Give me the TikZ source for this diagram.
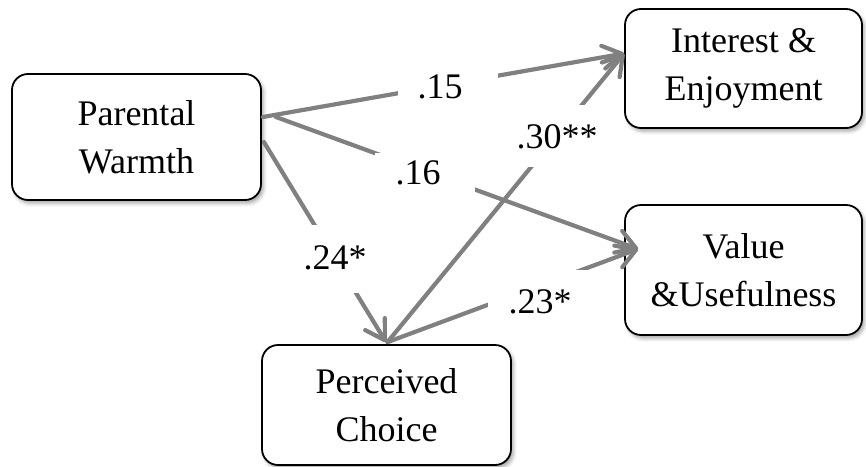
\documentclass[tikz,border=0pt]{standalone}
\usepackage{fontspec}
\setmainfont{Liberation Serif}
\usetikzlibrary{arrows.meta,calc,shadows.blur}
\definecolor{pathgray}{RGB}{128,128,128}
\begin{document}
\begin{tikzpicture}[x=0.5pt,y=-0.5pt,
  box/.style={draw=black, line width=0.9pt, fill=white, rounded corners=8pt,
    align=center, inner sep=0pt,
    font=\fontsize{18}{24}\selectfont,
    blur shadow={shadow xshift=1.2pt, shadow yshift=-1.6pt,
      shadow blur radius=1.8pt, shadow opacity=35}},
  path/.style={draw=pathgray, line width=2.1pt, line cap=round,
    -{Straight Barb[length=9.5pt,width=11.5pt,line cap=round,line join=round]}},
  patch/.style={fill=white, draw=none, inner sep=0pt},
  coef/.style={inner sep=0pt, font=\fontsize{18}{24}\selectfont}]
\useasboundingbox (0,0) rectangle (866,466);

% constructs
\node[box, minimum width=124.5pt, minimum height=63pt] (pw) at (136.5,137) {Parental\\Warmth};
\node[box, minimum width=118.5pt, minimum height=59.5pt] (ie) at (743.5,68.5) {Interest \&\\Enjoyment};
\node[box, minimum width=118.5pt, minimum height=65pt] (vu) at (743.5,270) {Value\\\&Usefulness};
\node[box, minimum width=124.5pt, minimum height=60pt] (pc) at (386.5,405) {Perceived\\Choice};

% paths
\draw[path] ($(pw.east)+(1,-20)$) -- ($(ie.west)+(0,-15)$);
\draw[path] ($(pw.east)+(14,-20)$) -- ($(vu.west)+(14,-21)$);
\draw[path] ($(pw.east)+(2,5)$) -- ($(pc.north)+(-0.5,-2)$);
\draw[path] ($(pc.north)+(1,-2)$) -- ($(ie.west)+(0,-15)$);
\draw[path] ($(pc.north)+(1,-2)$) -- ($(vu.west)+(14,-21)$);

% coefficient labels on white patches
\node[patch, minimum width=50pt, minimum height=27.5pt] (p15) at (448,87.5) {};
\node[coef] (c15) at (440,87) {.15};
\node[patch, minimum width=50pt, minimum height=22pt] (p16) at (425,175) {};
\node[coef] (c16) at (418,173) {.16};
\node[patch, minimum width=60pt, minimum height=31pt] (p30) at (563,136) {};
\node[coef] (c30) at (557,137) {.30**};
\node[patch, minimum width=52.5pt, minimum height=34pt] (p24) at (347.5,259) {};
\node[coef] (c24) at (335,258) {.24*};
\node[patch, minimum width=62pt, minimum height=30pt] (p23) at (550,300) {};
\node[coef] (c23) at (540,302) {.23*};
\end{tikzpicture}
\end{document}
